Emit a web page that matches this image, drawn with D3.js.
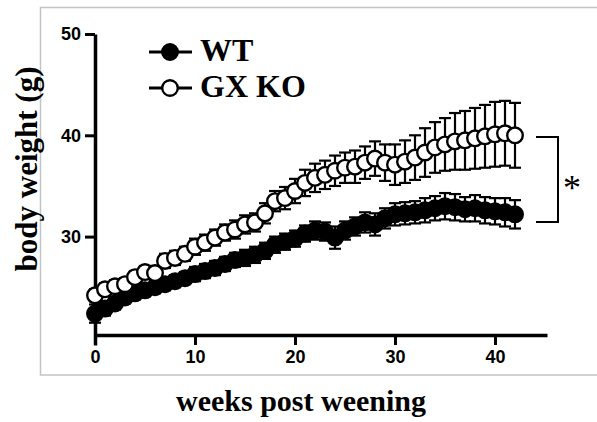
<!DOCTYPE html>
<html lang="en">
<head>
  <meta charset="UTF-8">
  <script src="https://cdn.jsdelivr.net/npm/d3@7"></script>
  <title>Body weight</title>
  <style>
    body { margin: 0; background: #fff; }
    .tick text { font-family: "Liberation Sans", Arial, sans-serif; font-size: 18px; font-weight: bold; }
  </style>
</head>
<body>
  <svg width="597" height="422" id="chart"></svg>
  <script>
    // weeks post weening
    let weeks = [0, 1, 2, 3, 4, 5, 6, 7, 8, 9, 10, 11, 12, 13, 14, 15, 16, 17, 18, 19, 20,
      21, 22, 23, 24, 25, 26, 27, 28, 29, 30, 31, 32, 33, 34, 35, 36, 37, 38, 39, 40, 41, 42];

    // WT mean body weight (g) and SEM
    let wtMean = [22.4, 22.9, 23.4, 24.0, 24.4, 24.7, 25.0, 25.3, 25.6, 25.9, 26.3, 26.6, 26.9, 27.3, 27.7,
      27.9, 28.2, 28.6, 29.2, 29.5, 29.8, 30.3, 30.6, 30.5, 29.9, 30.6, 31.0, 31.4, 31.2, 31.8, 32.2,
      32.3, 32.4, 32.6, 32.8, 33.0, 32.9, 32.7, 32.8, 32.6, 32.5, 32.4, 32.2];
    let wtSem = [0.9, 0.7, 0.6, 0.6, 0.6, 0.6, 0.6, 0.6, 0.6, 0.6, 0.7, 0.7, 0.7, 0.7, 0.7,
      0.8, 0.8, 0.8, 0.8, 0.8, 0.8, 0.8, 0.9, 0.9, 1.1, 0.9, 0.9, 1.0, 1.1, 1.0, 1.1,
      1.1, 1.1, 1.2, 1.2, 1.3, 1.3, 1.2, 1.3, 1.3, 1.3, 1.4, 1.4];

    // GX KO mean body weight (g) and SEM
    let koMean = [24.2, 24.8, 25.1, 25.3, 26.0, 26.5, 26.4, 27.6, 27.9, 28.3, 29.0, 29.4, 29.9, 30.4, 30.7,
      31.2, 31.4, 32.3, 33.5, 33.8, 34.5, 35.3, 35.8, 36.1, 36.5, 36.8, 36.9, 37.3, 37.7, 37.3, 37.1,
      37.4, 37.8, 38.3, 38.8, 39.1, 39.4, 39.5, 39.7, 39.9, 40.1, 40.2, 40.0];
    let koSem = [0.6, 0.6, 0.6, 0.6, 0.6, 0.6, 0.7, 0.7, 0.7, 0.7, 0.8, 0.8, 0.8, 0.8, 0.9,
      0.9, 0.9, 1.0, 1.0, 1.1, 1.2, 1.3, 1.4, 1.4, 1.5, 1.5, 1.6, 1.6, 1.7, 1.8, 2.0,
      2.1, 2.2, 2.4, 2.5, 2.6, 2.8, 2.9, 3.0, 3.1, 3.2, 3.2, 3.2];

    let xTicks = [0, 10, 20, 30, 40];
    let yTicks = [30, 40, 50];
    let seriesNames = ["WT", "GX KO"];

    let svg = d3.select("#chart");

    // light grey frame round the figure
    svg.append("rect")
      .attr("x", 40.5).attr("y", 7.5)
      .attr("width", 600).attr("height", 367.5)
      .attr("fill", "none").attr("stroke", "#c4c4c4").attr("stroke-width", 1.5);

    /* SCALES */
    let scaleX = d3.scaleLinear().domain([0, 45.2]).range([95, 547]);
    let scaleY = d3.scaleLinear().domain([19.3, 50]).range([345, 34]);
    let axisY0 = 335; // x axis sits a bit above the bottom of the y axis

    /* AXES */
    let axisX = d3.axisBottom(scaleX).tickValues(xTicks).tickSize(10).tickSizeOuter(0).tickPadding(5);
    let gx = svg.append("g").attr("transform", `translate(0,${axisY0})`).call(axisX);
    gx.select(".domain").attr("stroke-width", 3.5);
    gx.selectAll(".tick line").attr("stroke-width", 3);

    let axisY = d3.axisLeft(scaleY).tickValues(yTicks).tickSize(10).tickSizeOuter(0).tickPadding(4);
    let gy = svg.append("g").attr("transform", "translate(95,0)").call(axisY);
    gy.select(".domain").attr("stroke-width", 3.5);
    gy.selectAll(".tick line").attr("stroke-width", 3);

    svg.append("text")
      .text("weeks post weening")
      .attr("x", 301).attr("y", 411)
      .attr("text-anchor", "middle")
      .style("font-family", "'Liberation Serif', 'Times New Roman', serif")
      .style("font-weight", "bold").style("font-size", "30px");

    svg.append("text")
      .text("body weight (g)")
      .attr("transform", "translate(37,169) rotate(-90)")
      .attr("text-anchor", "middle")
      .style("font-family", "'Liberation Serif', 'Times New Roman', serif")
      .style("font-weight", "bold").style("font-size", "31px");

    /* PLOT DATA */
    let series = [
      { name: seriesNames[0], mean: wtMean, sem: wtSem, fill: "#000" },
      { name: seriesNames[1], mean: koMean, sem: koSem, fill: "#fff" }
    ];

    let line = d3.line()
      .x((d, i) => scaleX(weeks[i]))
      .y(d => scaleY(d));

    series.forEach(s => {
      let g = svg.append("g");
      let rows = weeks.map((w, i) => ({ w: w, m: s.mean[i], e: s.sem[i] }));

      // error bars
      let bars = g.selectAll(".err").data(rows).enter().append("g").attr("stroke", "#000").attr("stroke-width", 2.2);
      bars.append("line")
        .attr("x1", d => scaleX(d.w)).attr("x2", d => scaleX(d.w))
        .attr("y1", d => scaleY(d.m - d.e)).attr("y2", d => scaleY(d.m + d.e));
      bars.append("line")
        .attr("x1", d => scaleX(d.w) - 6).attr("x2", d => scaleX(d.w) + 6)
        .attr("y1", d => scaleY(d.m + d.e)).attr("y2", d => scaleY(d.m + d.e));
      bars.append("line")
        .attr("x1", d => scaleX(d.w) - 6).attr("x2", d => scaleX(d.w) + 6)
        .attr("y1", d => scaleY(d.m - d.e)).attr("y2", d => scaleY(d.m - d.e));

      g.append("path")
        .attr("d", line(s.mean))
        .attr("fill", "none").attr("stroke", "#000").attr("stroke-width", 2.5);

      g.selectAll("circle").data(rows).enter().append("circle")
        .attr("cx", d => scaleX(d.w))
        .attr("cy", d => scaleY(d.m))
        .attr("r", 7.8)
        .attr("fill", s.fill)
        .attr("stroke", "#000").attr("stroke-width", 2.4);
    });

    /* LEGEND */
    let legend = svg.append("g");
    series.forEach((s, i) => {
      let y = 52 + i * 36;
      legend.append("line")
        .attr("x1", 149).attr("x2", 192).attr("y1", y).attr("y2", y)
        .attr("stroke", "#000").attr("stroke-width", 3);
      legend.append("circle")
        .attr("cx", 170).attr("cy", y).attr("r", 7.8)
        .attr("fill", s.fill).attr("stroke", "#000").attr("stroke-width", 2.4);
      legend.append("text")
        .text(s.name)
        .attr("x", 200).attr("y", y + 9)
        .style("font-family", "'Liberation Serif', 'Times New Roman', serif")
        .style("font-weight", "bold").style("font-size", "32px");
    });

    /* SIGNIFICANCE BRACKET */
    svg.append("path")
      .attr("d", "M536,137 H558 V222 H536")
      .attr("fill", "none").attr("stroke", "#000").attr("stroke-width", 2);
    svg.append("text")
      .text("*")
      .attr("x", 572).attr("y", 200)
      .attr("text-anchor", "middle")
      .style("font-family", "'Liberation Serif', 'Times New Roman', serif")
      .style("font-size", "36px");
  </script>
</body>
</html>
